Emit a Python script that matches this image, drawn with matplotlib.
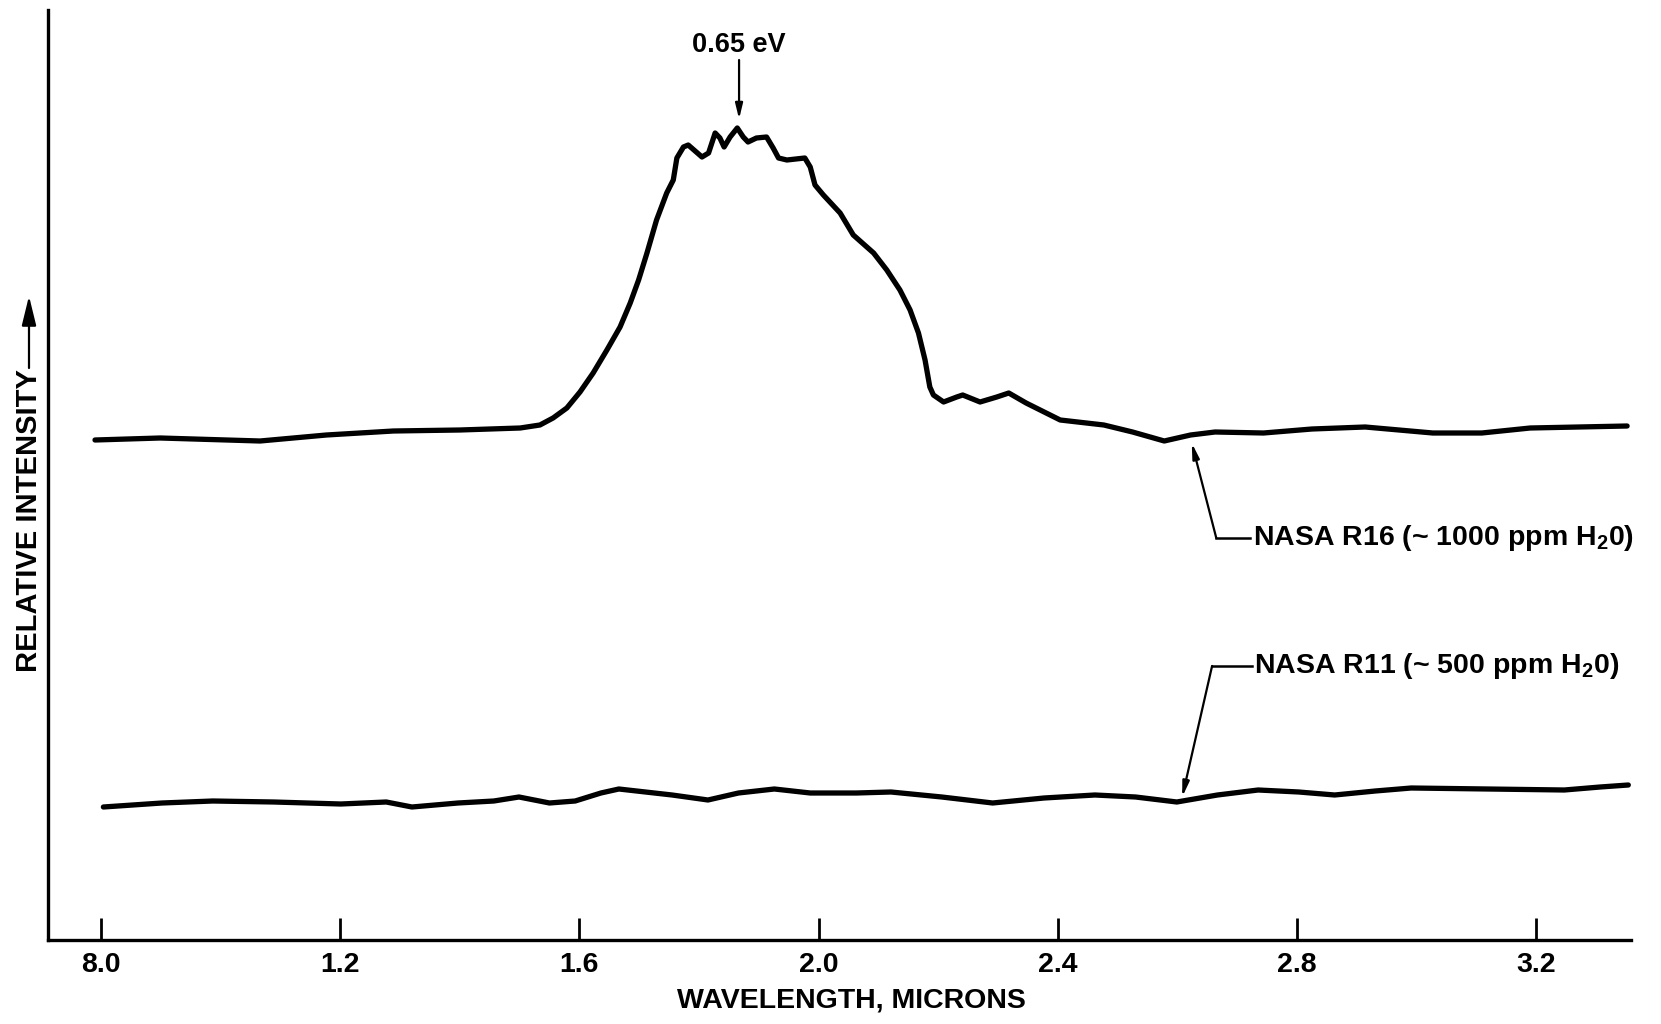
import matplotlib
matplotlib.use("Agg")
import matplotlib.pyplot as plt

# ---- data ----
r16_x = [0.790, 0.899, 1.066, 1.177, 1.289, 1.400, 1.501, 1.534, 1.556, 1.579,
         1.601, 1.623, 1.646, 1.668, 1.685, 1.699, 1.713, 1.729, 1.746, 1.757,
         1.763, 1.774, 1.782, 1.805, 1.816, 1.827, 1.835, 1.842, 1.852, 1.864,
         1.874, 1.882, 1.896, 1.913, 1.924, 1.933, 1.947, 1.977, 1.986, 1.994,
         2.008, 2.036, 2.058, 2.092, 2.114, 2.136, 2.153, 2.167, 2.178, 2.186,
         2.192, 2.209, 2.231, 2.241, 2.270, 2.298, 2.318, 2.347, 2.404, 2.477,
         2.525, 2.578, 2.622, 2.663, 2.744, 2.825, 2.914, 3.027, 3.109, 3.190,
         3.352]
r16_y = [5.00, 5.02, 4.99, 5.05, 5.09, 5.10, 5.12, 5.15, 5.22, 5.32,
         5.48, 5.67, 5.90, 6.13, 6.37, 6.60, 6.87, 7.20, 7.47, 7.60,
         7.82, 7.93, 7.95, 7.83, 7.87, 8.07, 8.02, 7.93, 8.03, 8.12,
         8.03, 7.98, 8.02, 8.03, 7.92, 7.82, 7.80, 7.82, 7.73, 7.55,
         7.45, 7.27, 7.05, 6.87, 6.70, 6.50, 6.30, 6.07, 5.80, 5.53,
         5.45, 5.38, 5.43, 5.45, 5.38, 5.43, 5.47, 5.37, 5.20, 5.15,
         5.08, 4.99, 5.05, 5.08, 5.07, 5.11, 5.13, 5.07, 5.07, 5.12,
         5.14]

r11_x = [0.804, 0.902, 0.987, 1.089, 1.201, 1.277, 1.320, 1.397, 1.457, 1.499,
         1.550, 1.593, 1.636, 1.666, 1.755, 1.815, 1.866, 1.926, 1.986, 2.063,
         2.121, 2.206, 2.291, 2.377, 2.462, 2.530, 2.599, 2.667, 2.735, 2.803,
         2.863, 2.931, 2.991, 3.119, 3.247, 3.307, 3.354]
r11_y = [1.33, 1.37, 1.39, 1.38, 1.36, 1.38, 1.33, 1.37, 1.39, 1.43,
         1.37, 1.39, 1.47, 1.51, 1.45, 1.40, 1.47, 1.51, 1.47, 1.47,
         1.48, 1.43, 1.37, 1.42, 1.45, 1.43, 1.38, 1.45, 1.50, 1.48,
         1.45, 1.49, 1.52, 1.51, 1.50, 1.53, 1.55]

tick_positions = [0.8, 1.2, 1.6, 2.0, 2.4, 2.8, 3.2]
tick_labels = ["8.0", "1.2", "1.6", "2.0", "2.4", "2.8", "3.2"]

r16_label = "NASA R16 (~ 1000 ppm H$_2$0)"
r11_label = "NASA R11 (~ 500 ppm H$_2$0)"
peak_label = "0.65 eV"
x_label = "WAVELENGTH, MICRONS"
y_label = "RELATIVE INTENSITY"

# ---- styling ----
FONT = ["Liberation Sans", "DejaVu Sans"]
plt.rcParams["font.family"] = FONT
plt.rcParams["mathtext.fontset"] = "custom"
plt.rcParams["mathtext.rm"] = "Liberation Sans"
plt.rcParams["mathtext.bf"] = "Liberation Sans:bold"
plt.rcParams["mathtext.default"] = "bf"

W, H = 1661, 1024
fig = plt.figure(figsize=(W / 100, H / 100), dpi=100)
fig.patch.set_facecolor("white")

ax_left, ax_right, ax_top, ax_bottom = 48, 1631, 10, 940
ax = fig.add_axes([ax_left / W, (H - ax_bottom) / H,
                   (ax_right - ax_left) / W, (ax_bottom - ax_top) / H])
ax.set_xlim(0.7114, 3.3585)
ax.set_ylim(0, 9.30)

for s in ("top", "right"):
    ax.spines[s].set_visible(False)
for s in ("left", "bottom"):
    ax.spines[s].set_linewidth(2.4)

ax.set_yticks([])
ax.set_xticks(tick_positions)
ax.set_xticklabels(tick_labels, fontsize=20.5, fontweight="bold")
ax.tick_params(axis="x", direction="in", length=16, width=2.0, pad=9)

ax.plot(r16_x, r16_y, color="black", lw=3.8, solid_capstyle="round",
        solid_joinstyle="round")
ax.plot(r11_x, r11_y, color="black", lw=3.8, solid_capstyle="round",
        solid_joinstyle="round")

# peak annotation
ax.annotate("", xy=(1.867, 8.21), xytext=(1.867, 8.80),
            arrowprops=dict(arrowstyle="-|>,head_length=0.9,head_width=0.22",
                            color="black", lw=1.6, shrinkA=0, shrinkB=0))
ax.text(1.867, 8.95, peak_label, ha="center", va="center",
        fontsize=19.5, fontweight="bold")

# R16 label with leader
ax.annotate("", xy=(2.624, 4.97), xytext=(2.665, 4.02),
            arrowprops=dict(arrowstyle="-|>,head_length=0.9,head_width=0.2",
                            color="black", lw=1.6, shrinkA=0, shrinkB=0))
ax.plot([2.665, 2.722], [4.02, 4.02], color="black", lw=1.8)
ax.text(2.726, 4.02, r16_label, ha="left", va="center",
        fontsize=20.5, fontweight="bold")

# R11 label with leader
ax.annotate("", xy=(2.608, 1.43), xytext=(2.658, 2.74),
            arrowprops=dict(arrowstyle="-|>,head_length=0.9,head_width=0.2",
                            color="black", lw=1.6, shrinkA=0, shrinkB=0))
ax.plot([2.658, 2.724], [2.74, 2.74], color="black", lw=1.8)
ax.text(2.728, 2.74, r11_label, ha="left", va="center",
        fontsize=20.5, fontweight="bold")

# axis titles
fig.text(851 / W, (H - 1001) / H, x_label, ha="center", va="center",
         fontsize=20.5, fontweight="bold")
fig.text(29 / W, (H - 521) / H, y_label, ha="center", va="center",
         rotation=90, fontsize=21, fontweight="bold")
fig.add_artist(matplotlib.patches.FancyArrowPatch(
    (29 / W, (H - 368) / H), (29 / W, (H - 296) / H),
    transform=fig.transFigure,
    arrowstyle="-|>,head_length=0.9,head_width=0.22",
    color="black", lw=1.6, mutation_scale=20, shrinkA=0, shrinkB=0))

fig.savefig("out.png", dpi=100, facecolor="white")
